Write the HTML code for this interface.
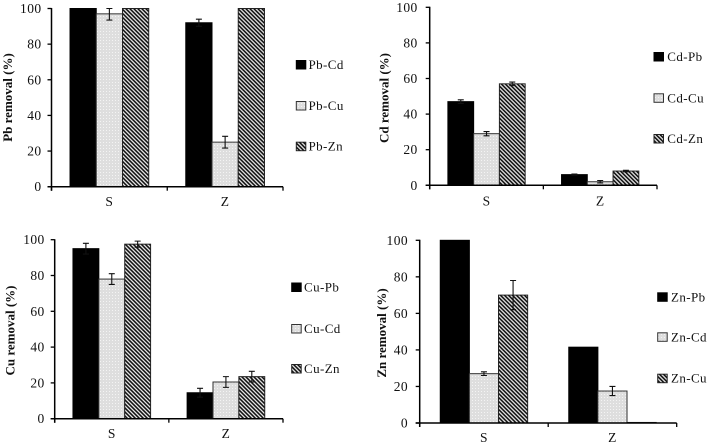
<!DOCTYPE html>
<html lang="en">
<head>
<meta charset="utf-8">
<title>Metal removal charts</title>
<style>
  html, body { margin: 0; padding: 0; background: #fff; }
  body { width: 709px; height: 446px; overflow: hidden; }
  svg { display: block; filter: blur(0.35px); }
  text { font-family: "Liberation Serif", serif; fill: #111; }
  .tick { font-size: 13.5px; letter-spacing: 0.4px; }
  .title { font-size: 13px; font-weight: bold; }
  .legend { font-size: 13px; letter-spacing: 0.4px; }
</style>
</head>
<body>
<svg id="figure" xmlns="http://www.w3.org/2000/svg" width="709" height="446" viewBox="0 0 709 446">
  <defs>
    <pattern id="dots" patternUnits="userSpaceOnUse" width="3" height="3">
      <rect width="3" height="3" fill="#dedede"></rect>
      <rect x="1" y="1" width="1" height="1" fill="#f4f4f4"></rect>
    </pattern>
    <pattern id="hatch" patternUnits="userSpaceOnUse" width="2.83" height="2.83" patternTransform="rotate(-45)">
      <rect width="2.83" height="2.83" fill="#efefef"></rect>
      <rect width="1.6" height="2.83" fill="#111"></rect>
    </pattern>
  </defs>
</svg>
<script>
const categories = ['S', 'Z'];
const yTickLabels = [0, 20, 40, 60, 80, 100];

const pbLabels = ['Pb-Cd', 'Pb-Cu', 'Pb-Zn'];
const pbCdValues = [100, 92];
const pbCuValues = [97, 25];
const pbZnValues = [100, 100];
const pbCdErrors = [0, 2];
const pbCuErrors = [3.5, 3.3];
const pbZnErrors = [0, 0];

const cdLabels = ['Cd-Pb', 'Cd-Cu', 'Cd-Zn'];
const cdPbValues = [47, 6];
const cdCuValues = [29, 2];
const cdZnValues = [57, 8];
const cdPbErrors = [1, 0.3];
const cdCuErrors = [1.2, 0.7];
const cdZnErrors = [1, 0.4];

const cuLabels = ['Cu-Pb', 'Cu-Cd', 'Cu-Zn'];
const cuPbValues = [95, 14.5];
const cuCdValues = [78, 20.5];
const cuZnValues = [97.5, 23.5];
const cuPbErrors = [3, 2.5];
const cuCdErrors = [3, 3];
const cuZnErrors = [1.7, 3];

const znLabels = ['Zn-Pb', 'Zn-Cd', 'Zn-Cu'];
const znPbValues = [100, 41.5];
const znCdValues = [27, 17.5];
const znCuValues = [70, 0.3];
const znPbErrors = [0, 0];
const znCdErrors = [1, 2.5];
const znCuErrors = [8, 0];

const panels = [
  { key: 'pb', title: 'Pb removal (%)', labels: pbLabels,
    values: [pbCdValues, pbCuValues, pbZnValues], errors: [pbCdErrors, pbCuErrors, pbZnErrors],
    x0: 51.5, x1: 283, yTop: 8.5, yBase: 186.7, tickGap: 10, titleX: 12, titleY: 97.5, catDy: 19.5,
    legendX: 296.3, legendTextX: 308.5, legendYs: [69, 110, 150.7] },
  { key: 'cd', title: 'Cd removal (%)', labels: cdLabels,
    values: [cdPbValues, cdCuValues, cdZnValues], errors: [cdPbErrors, cdCuErrors, cdZnErrors],
    x0: 429.7, x1: 657, yTop: 7.3, yBase: 185.3, tickGap: 12, titleX: 388.5, titleY: 98, catDy: 20,
    legendX: 654, legendTextX: 667.3, legendYs: [61, 102.3, 143] },
  { key: 'cu', title: 'Cu removal (%)', labels: cuLabels,
    values: [cuPbValues, cuCdValues, cuZnValues], errors: [cuPbErrors, cuCdErrors, cuZnErrors],
    x0: 54.7, x1: 283, yTop: 239.7, yBase: 418.7, tickGap: 10, titleX: 14.5, titleY: 330.5, catDy: 19.5,
    legendX: 291.7, legendTextX: 304, legendYs: [291.5, 333, 373] },
  { key: 'zn', title: 'Zn removal (%)', labels: znLabels,
    values: [znPbValues, znCdValues, znCuValues], errors: [znPbErrors, znCdErrors, znCuErrors],
    x0: 419.7, x1: 676.7, yTop: 240.3, yBase: 423, tickGap: 11.7, titleX: 386, titleY: 333, catDy: 19,
    legendX: 657.7, legendTextX: 671, legendYs: [301.3, 341.3, 382.7] }
];

const NS = 'http://www.w3.org/2000/svg';
const seriesFills = ['#000', 'url(#dots)', 'url(#hatch)'];
const seriesStrokes = ['#000', '#333', '#222'];
const figure = document.getElementById('figure');

function make(parent, tag, attrs, content) {
  const node = document.createElementNS(NS, tag);
  for (const k in attrs) node.setAttribute(k, attrs[k]);
  if (content !== undefined) node.textContent = content;
  parent.appendChild(node);
  return node;
}

panels.forEach(function (p) {
  const yScale = function (v) { return p.yBase - (v / 100) * (p.yBase - p.yTop); };
  const band = (p.x1 - p.x0) / categories.length;
  const barW = band * 0.68 / p.values.length;
  const xScale = function (c, s) {
    return p.x0 + band * c + band * 0.16 + barW * s;
  };

  const g = make(figure, 'g', {});
  
  

  // bars
  p.values.forEach(function (series, s) {
    series.forEach(function (v, c) {
      const bar = make(g, 'rect', {
        x: xScale(c, s), y: yScale(v), width: barW, height: p.yBase - yScale(v),
        fill: seriesFills[s], stroke: seriesStrokes[s], 'stroke-width': 1
      });
      
      
    });
  });

  // error bars
  p.errors.forEach(function (series, s) {
    series.forEach(function (e, c) {
      if (!e) return;
      const v = p.values[s][c];
      const cx = xScale(c, s) + barW / 2;
      const hi = Math.max(yScale(v + e), p.yTop);
      const lo = yScale(v - e);
      const path = 'M' + (cx - 3) + ' ' + hi + 'H' + (cx + 3) + 'M' + cx + ' ' + hi + 'V' + lo + 'M' + (cx - 3) + ' ' + lo + 'H' + (cx + 3);
      const err = make(g, 'path', { d: path, fill: 'none', stroke: '#111', 'stroke-width': 1.1 });
      
      
    });
  });

  // y axis
  const yAxis = make(g, 'line', { x1: p.x0, x2: p.x0, y1: p.yTop - 0.5, y2: p.yBase + 4, stroke: '#000', 'stroke-width': 1.5 });
  
  

  yTickLabels.forEach(function (t) {
    make(g, 'line', { x1: p.x0 - 4, x2: p.x0, y1: yScale(t), y2: yScale(t), stroke: '#000', 'stroke-width': 1.3 });
    const label = make(g, 'text', { x: p.x0 - p.tickGap, y: yScale(t) + 4.5, 'text-anchor': 'end', class: 'tick' }, String(t));
    
    
  });

  // x axis
  const xAxis = make(g, 'line', { x1: p.x0 - 4, x2: p.x1, y1: p.yBase, y2: p.yBase, stroke: '#000', 'stroke-width': 1.5 });
  
  

  for (let i = 0; i <= categories.length; i++) {
    const tx = p.x0 + band * i;
    make(g, 'line', { x1: tx, x2: tx, y1: p.yBase, y2: p.yBase + 4, stroke: '#000', 'stroke-width': 1.3 });
  }
  categories.forEach(function (cat, c) {
    const label = make(g, 'text', { x: p.x0 + band * (c + 0.5), y: p.yBase + p.catDy, 'text-anchor': 'middle', class: 'tick' }, cat);
    
    
  });

  // y title
  const title = make(g, 'text', {
    x: p.titleX, y: p.titleY, 'text-anchor': 'middle', class: 'title',
    transform: 'rotate(-90 ' + p.titleX + ' ' + p.titleY + ')'
  }, p.title);
  
  

  // legend
  p.labels.forEach(function (name, s) {
    const ly = p.legendYs[s];
    const swatch = make(g, 'rect', {
      x: p.legendX, y: ly - 8.5, width: 9.5, height: 8.5,
      fill: seriesFills[s], stroke: seriesStrokes[s], 'stroke-width': 1
    });
    
    
    const entry = make(g, 'text', { x: p.legendTextX, y: ly, class: 'legend' }, name);
    
    
  });
});
</script>
</body>
</html>
